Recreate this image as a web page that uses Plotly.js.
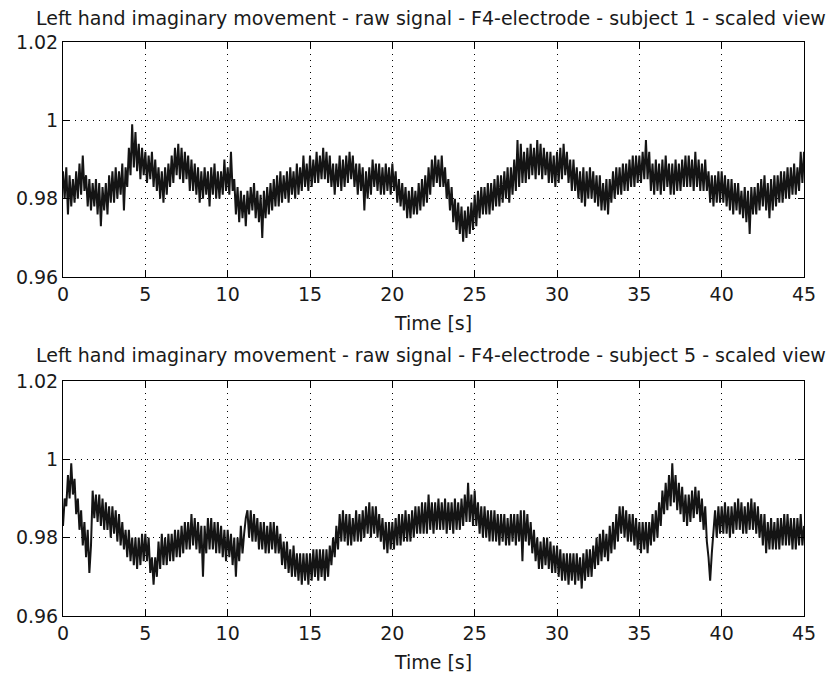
<!DOCTYPE html>
<html>
<head>
<meta charset="utf-8">
<script src="https://cdn.plot.ly/plotly-3.0.1.min.js"></script>
<style>
html, body { margin: 0; padding: 0; background: #ffffff; }
#chart { width: 839px; height: 679px; }
</style>
</head>
<body>
<div id="chart"></div>
<script>
// ---- data ----
const timeStart = 0;      // s
const timeStep = 0.1;     // s, sampling grid of the hand-read values
const xTickValues = [0, 5, 10, 15, 20, 25, 30, 35, 40, 45];
const yTickValues = [0.96, 0.98, 1, 1.02];
const yTickLabels = ['0.96', '0.98', '1', '1.02'];
const panelTitles = [
  'Left hand imaginary movement - raw signal - F4-electrode - subject 1 - scaled view',
  'Left hand imaginary movement - raw signal - F4-electrode - subject 5 - scaled view'
];
const xAxisLabel = 'Time [s]';

// subject 1, F4 electrode, one value every 0.1 s (0 .. 45 s)
const subject1 = [
0.987,0.980,0.988,0.976,0.986,0.978,0.985,0.979,0.987,0.980,
0.989,0.981,0.991,0.982,0.986,0.978,0.985,0.977,0.984,0.978,
0.985,0.976,0.984,0.973,0.983,0.977,0.984,0.976,0.986,0.979,
0.987,0.979,0.988,0.980,0.987,0.981,0.989,0.977,0.988,0.983,
0.993,0.986,0.999,0.988,0.997,0.987,0.994,0.985,0.993,0.986,
0.992,0.984,0.991,0.985,0.992,0.983,0.990,0.982,0.988,0.980,
0.987,0.979,0.988,0.981,0.989,0.983,0.991,0.984,0.993,0.986,
0.994,0.985,0.993,0.984,0.992,0.985,0.991,0.982,0.990,0.982,
0.989,0.981,0.988,0.979,0.987,0.980,0.988,0.981,0.987,0.978,
0.988,0.981,0.989,0.980,0.987,0.980,0.987,0.981,0.990,0.982,
0.988,0.981,0.992,0.982,0.985,0.976,0.983,0.974,0.982,0.975,
0.981,0.973,0.982,0.976,0.983,0.977,0.984,0.975,0.982,0.974,
0.981,0.970,0.982,0.975,0.983,0.976,0.984,0.977,0.985,0.978,
0.986,0.978,0.987,0.979,0.986,0.980,0.987,0.979,0.988,0.981,
0.987,0.980,0.989,0.981,0.988,0.982,0.991,0.983,0.989,0.982,
0.991,0.983,0.990,0.984,0.992,0.984,0.991,0.985,0.993,0.985,
0.992,0.984,0.991,0.983,0.989,0.981,0.989,0.983,0.991,0.982,
0.990,0.983,0.991,0.984,0.992,0.985,0.991,0.983,0.989,0.981,
0.989,0.982,0.988,0.977,0.987,0.980,0.988,0.981,0.990,0.983,
0.989,0.982,0.989,0.981,0.988,0.981,0.989,0.982,0.988,0.981,
0.989,0.982,0.987,0.979,0.985,0.978,0.984,0.977,0.983,0.975,
0.982,0.975,0.983,0.976,0.982,0.976,0.984,0.977,0.985,0.978,
0.986,0.979,0.988,0.981,0.990,0.983,0.991,0.984,0.990,0.983,
0.991,0.983,0.988,0.980,0.985,0.977,0.983,0.974,0.980,0.972,
0.979,0.971,0.978,0.969,0.977,0.970,0.978,0.971,0.979,0.972,
0.981,0.973,0.982,0.975,0.983,0.976,0.983,0.976,0.984,0.976,
0.984,0.977,0.985,0.978,0.986,0.978,0.986,0.979,0.987,0.980,
0.988,0.979,0.988,0.981,0.990,0.982,0.995,0.983,0.994,0.984,
0.992,0.984,0.993,0.985,0.994,0.986,0.993,0.985,0.995,0.986,
0.994,0.985,0.993,0.986,0.992,0.984,0.992,0.984,0.991,0.983,
0.992,0.984,0.993,0.985,0.994,0.986,0.992,0.984,0.990,0.982,
0.990,0.982,0.988,0.980,0.987,0.979,0.988,0.978,0.987,0.980,
0.988,0.980,0.987,0.979,0.986,0.978,0.986,0.977,0.984,0.977,
0.985,0.976,0.985,0.979,0.987,0.980,0.988,0.981,0.988,0.981,
0.989,0.982,0.989,0.982,0.990,0.983,0.991,0.983,0.991,0.984,
0.991,0.984,0.992,0.985,0.995,0.985,0.992,0.982,0.989,0.981,
0.990,0.982,0.989,0.981,0.990,0.982,0.991,0.983,0.989,0.981,
0.989,0.981,0.990,0.982,0.989,0.982,0.990,0.983,0.991,0.983,
0.991,0.983,0.990,0.982,0.992,0.983,0.990,0.982,0.989,0.982,
0.990,0.982,0.987,0.979,0.986,0.978,0.986,0.979,0.987,0.979,
0.987,0.979,0.986,0.978,0.985,0.977,0.985,0.976,0.984,0.977,
0.984,0.976,0.982,0.975,0.983,0.974,0.982,0.971,0.983,0.976,
0.983,0.976,0.984,0.977,0.985,0.978,0.986,0.977,0.984,0.975,
0.985,0.977,0.986,0.978,0.986,0.979,0.987,0.979,0.987,0.980,
0.988,0.980,0.988,0.981,0.989,0.981,0.988,0.982,0.992,0.984,
0.992
];

// subject 5, F4 electrode, one value every 0.1 s (0 .. 45 s)
const subject5 = [
0.983,0.990,0.988,0.996,0.990,0.999,0.991,0.995,0.986,0.990,
0.982,0.987,0.978,0.984,0.975,0.982,0.971,0.978,0.992,0.985,
0.991,0.984,0.991,0.983,0.990,0.982,0.989,0.982,0.988,0.980,
0.988,0.981,0.987,0.979,0.986,0.978,0.984,0.977,0.982,0.975,
0.982,0.974,0.980,0.973,0.980,0.972,0.980,0.973,0.981,0.974,
0.981,0.974,0.980,0.971,0.975,0.968,0.975,0.970,0.979,0.972,
0.981,0.973,0.980,0.973,0.981,0.974,0.981,0.974,0.982,0.975,
0.982,0.975,0.983,0.976,0.984,0.977,0.984,0.977,0.986,0.978,
0.985,0.977,0.984,0.976,0.983,0.970,0.983,0.976,0.985,0.977,
0.985,0.977,0.984,0.976,0.984,0.976,0.983,0.975,0.982,0.974,
0.982,0.975,0.981,0.973,0.980,0.970,0.980,0.974,0.983,0.976,
0.981,0.985,0.987,0.980,0.987,0.979,0.986,0.979,0.985,0.977,
0.984,0.977,0.984,0.976,0.983,0.976,0.984,0.977,0.984,0.976,
0.983,0.976,0.981,0.973,0.979,0.972,0.979,0.971,0.977,0.970,
0.978,0.970,0.976,0.969,0.976,0.968,0.976,0.969,0.976,0.968,
0.976,0.969,0.977,0.970,0.977,0.969,0.977,0.970,0.977,0.969,
0.977,0.970,0.978,0.973,0.980,0.975,0.983,0.977,0.986,0.979,
0.987,0.979,0.986,0.978,0.986,0.978,0.985,0.979,0.987,0.979,
0.986,0.979,0.987,0.980,0.988,0.981,0.989,0.980,0.988,0.981,
0.988,0.980,0.986,0.979,0.985,0.977,0.984,0.976,0.984,0.977,
0.984,0.977,0.985,0.978,0.986,0.978,0.986,0.979,0.987,0.979,
0.986,0.979,0.987,0.980,0.988,0.981,0.988,0.981,0.989,0.981,
0.989,0.981,0.991,0.982,0.989,0.981,0.989,0.982,0.990,0.982,
0.989,0.982,0.990,0.981,0.989,0.982,0.989,0.981,0.990,0.982,
0.989,0.982,0.990,0.983,0.991,0.984,0.994,0.984,0.991,0.983,
0.992,0.983,0.989,0.981,0.988,0.980,0.988,0.980,0.987,0.979,
0.987,0.979,0.987,0.979,0.986,0.978,0.986,0.979,0.986,0.978,
0.985,0.978,0.986,0.979,0.986,0.978,0.986,0.979,0.987,0.974,
0.987,0.979,0.986,0.978,0.984,0.976,0.982,0.974,0.980,0.972,
0.979,0.972,0.980,0.973,0.980,0.972,0.979,0.971,0.978,0.971,
0.978,0.970,0.977,0.969,0.976,0.969,0.976,0.968,0.976,0.969,
0.976,0.968,0.976,0.969,0.975,0.967,0.976,0.969,0.977,0.970,
0.977,0.970,0.978,0.972,0.980,0.973,0.981,0.974,0.982,0.975,
0.981,0.974,0.983,0.976,0.984,0.977,0.986,0.979,0.988,0.981,
0.988,0.980,0.987,0.979,0.986,0.979,0.986,0.978,0.985,0.977,
0.984,0.976,0.984,0.977,0.984,0.976,0.984,0.978,0.986,0.979,
0.987,0.980,0.989,0.983,0.992,0.986,0.994,0.987,0.996,0.988,
0.999,0.989,0.996,0.987,0.994,0.986,0.993,0.984,0.991,0.983,
0.991,0.984,0.992,0.985,0.993,0.986,0.992,0.984,0.990,0.982,
0.988,0.979,0.975,0.969,0.976,0.982,0.987,0.980,0.988,0.981,
0.988,0.981,0.989,0.981,0.988,0.980,0.988,0.981,0.989,0.982,
0.990,0.982,0.989,0.981,0.988,0.981,0.989,0.982,0.990,0.982,
0.989,0.981,0.988,0.980,0.986,0.978,0.986,0.976,0.984,0.977,
0.985,0.977,0.984,0.977,0.985,0.977,0.985,0.978,0.986,0.978,
0.986,0.978,0.985,0.977,0.985,0.977,0.985,0.978,0.986,0.978,
0.983
];

// ---- styling ----
const FONT = '"DejaVu Sans", "Liberation Sans", Arial, sans-serif';
const TEXT_COLOR = '#1a1a1a';

function xAxis() {
  return {
    domain: [0.0751, 0.9583],
    range: [0, 45],
    tickvals: xTickValues,
    ticktext: xTickValues.map(String),
    ticks: 'inside', ticklen: 6, tickwidth: 1, tickcolor: '#000',
    showline: true, linecolor: '#000', linewidth: 1, mirror: 'ticks',
    showgrid: true, gridcolor: '#000', gridwidth: 1, griddash: '1px,5px',
    zeroline: false,
    tickfont: { family: FONT, size: 19, color: TEXT_COLOR },
    title: { text: xAxisLabel, font: { family: FONT, size: 19, color: TEXT_COLOR }, standoff: 12 },
    fixedrange: true
  };
}
function yAxis(domain) {
  return {
    domain: domain,
    range: [0.96, 1.02],
    tickvals: yTickValues,
    ticktext: yTickLabels,
    ticks: 'inside', ticklen: 6, tickwidth: 1, tickcolor: '#000',
    showline: true, linecolor: '#000', linewidth: 1, mirror: 'ticks',
    showgrid: true, gridcolor: '#000', gridwidth: 1, griddash: '1px,5px',
    zeroline: false,
    tickfont: { family: FONT, size: 19, color: TEXT_COLOR },
    fixedrange: true
  };
}

const traces = [
  { type: 'scatter', mode: 'lines', x0: timeStart, dx: timeStep, y: subject1,
    xaxis: 'x', yaxis: 'y', line: { color: '#141414', width: 2 }, hoverinfo: 'skip' },
  { type: 'scatter', mode: 'lines', x0: timeStart, dx: timeStep, y: subject5,
    xaxis: 'x2', yaxis: 'y2', line: { color: '#141414', width: 2 }, hoverinfo: 'skip' }
];

const x1 = xAxis(); x1.anchor = 'y';
const x2 = xAxis(); x2.anchor = 'y2';
const y1 = yAxis([0.5920, 0.9381]); y1.anchor = 'x';
const y2 = yAxis([0.0928, 0.4389]); y2.anchor = 'x2';

const layout = {
  width: 839, height: 679,
  margin: { l: 0, r: 0, t: 0, b: 0 },
  paper_bgcolor: '#ffffff', plot_bgcolor: '#ffffff',
  showlegend: false,
  font: { family: FONT, color: TEXT_COLOR },
  xaxis: x1, yaxis: y1, xaxis2: x2, yaxis2: y2,
  annotations: [
    { text: panelTitles[0], xref: 'paper', yref: 'paper', x: 0.5137, y: 0.9729,
      xanchor: 'center', yanchor: 'middle', showarrow: false,
      font: { family: FONT, size: 19, color: TEXT_COLOR } },
    { text: panelTitles[1], xref: 'paper', yref: 'paper', x: 0.5137, y: 0.4766,
      xanchor: 'center', yanchor: 'middle', showarrow: false,
      font: { family: FONT, size: 19, color: TEXT_COLOR } }
  ]
};

Plotly.newPlot('chart', traces, layout, { staticPlot: true, displayModeBar: false });
</script>
</body>
</html>
